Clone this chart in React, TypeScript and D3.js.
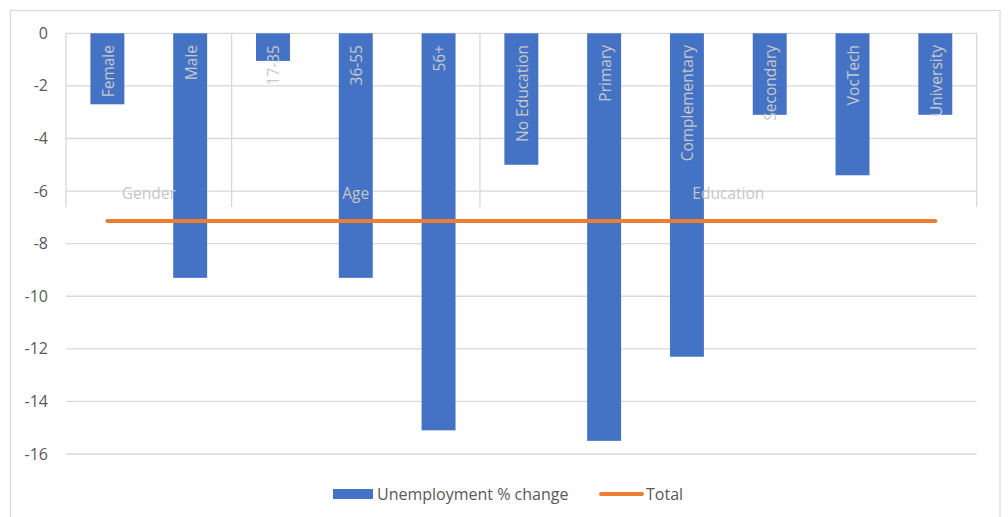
import React, { useEffect } from "react";
import * as d3 from "d3";

const categories = ["Female", "Male", "17-35", "36-55", "56+", "No Education", "Primary", "Complementary", "Secondary", "VocTech", "University"];
const values = [-2.7, -9.3, -1.05, -9.3, -15.1, -5.0, -15.5, -12.3, -3.1, -5.4, -3.1];
const totalValue = -7.14;
const groupNames = ["Gender", "Age", "Education"];
const groupSizes = [2, 3, 6];
const yTicks = [0, -2, -4, -6, -8, -10, -12, -14, -16];
const seriesNames = ["Unemployment % change", "Total"];

const W = 1008;
const H = 517;
const FONT = "'Open Sans', sans-serif";

export default function App() {
  useEffect(() => {
    document.body.style.margin = "0";
  }, []);

  const left = 66;
  const right = 976.7;
  const x = d3.scaleBand<string>().domain(categories).range([left, right]).paddingInner(0.59).paddingOuter(0.295);
  const y = d3.scaleLinear().domain([0, -16]).range([33.3, 454]);
  const step = x.step();
  const catLineBottom = 207;

  // group boundaries
  const bounds: number[] = [left];
  let acc = 0;
  groupSizes.forEach((s) => {
    acc += s;
    bounds.push(left + acc * step);
  });

  const line = d3.line<string>().x((c) => (x(c) as number) + x.bandwidth() / 2).y(() => y(totalValue));

  return (
    <svg width={W} height={H} style={{ display: "block", fontFamily: FONT }}>
      <rect x={0} y={0} width={W} height={H} fill="#fff" />
      <rect x={10.5} y={10.5} width={989.5} height={520} fill="none" stroke="#d9d9d9" strokeWidth={1.2} />
      {/* gridlines */}
      {yTicks.map((t) => (
        <line key={t} x1={left} x2={right} y1={y(t)} y2={y(t)} stroke="#d9d9d9" strokeWidth={1.3} />
      ))}
      {/* category axis tick lines */}
      {bounds.map((b, i) => (
        <line key={i} x1={b} x2={b} y1={y(0)} y2={catLineBottom} stroke="#d9d9d9" strokeWidth={1.3} />
      ))}
      {/* y tick labels */}
      {yTicks.map((t) => (
        <text key={t} x={48} y={y(t)} dy="0.35em" textAnchor="end" fontSize={16} fill="#595959">
          {t}
        </text>
      ))}
      {/* bars */}
      {categories.map((c, i) => (
        <rect key={c} x={x(c)} y={y(0)} width={x.bandwidth()} height={y(values[i]) - y(0)} fill="#4472C4" />
      ))}
      {/* group labels */}
      {groupNames.map((g, i) => (
        <text key={g} x={(bounds[i] + bounds[i + 1]) / 2} y={199} textAnchor="middle" fontSize={15.5} fill="#c6c6c6">
          {g}
        </text>
      ))}
      {/* category labels */}
      {categories.map((c) => {
        const cx = (x(c) as number) + x.bandwidth() / 2 + 1;
        return (
          <text key={c} transform={`translate(${cx},45) rotate(-90)`} textAnchor="end" dy="0.35em" fontSize={15.5} fill="#c8c8c8">
            {c}
          </text>
        );
      })}
      {/* total line */}
      <path d={line(categories) || ""} fill="none" stroke="#ED7D31" strokeWidth={4} strokeLinecap="round" />
      {/* legend */}
      <rect x={333} y={489} width={40} height={10} fill="#4472C4" />
      <text x={377} y={494} dy="0.35em" fontSize={16} fill="#595959">
        {seriesNames[0]}
      </text>
      <line x1={601} x2={642} y1={494} y2={494} stroke="#ED7D31" strokeWidth={4} strokeLinecap="round" />
      <text x={646} y={494} dy="0.35em" fontSize={16} fill="#595959">
        {seriesNames[1]}
      </text>
    </svg>
  );
}
